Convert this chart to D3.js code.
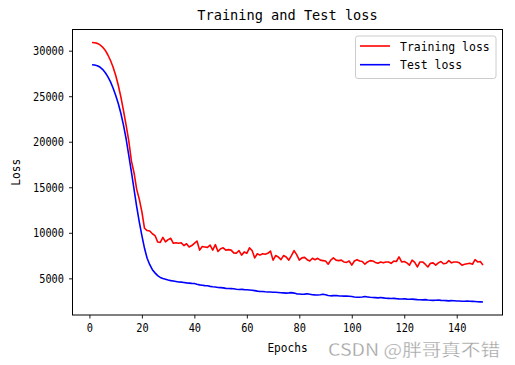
<!DOCTYPE html>
<html>
<head>
<meta charset="utf-8">
<script src="https://cdn.jsdelivr.net/npm/d3@7"></script>
<style>
html,body{margin:0;padding:0;background:#fff;}
svg{display:block;}
</style>
</head>
<body>
<div id="chart"></div>
<script>
const epochs = d3.range(1, 151);

const trainLoss = [
30900,30870,30800,30650,30400,30050,29550,28950,28200,27300,
26200,24900,23400,21800,20100,17900,16600,14800,13700,12300,
10500,10250,10200,9900,9700,9000,8950,9500,9000,9250,
9400,8850,8900,8850,8900,8600,8800,8450,8600,8850,
9100,8100,8500,8450,8400,8650,8100,8700,7950,8250,
8350,8100,8150,8100,7800,7750,8050,7550,7900,7750,
8350,8050,7250,7700,7550,7700,7650,7750,8000,7000,
7500,7350,7050,7500,7350,7000,7500,8050,7600,7000,
7250,7300,7050,6900,7200,7050,7200,7000,6950,6900,
6550,7000,7250,7000,6950,7000,6800,6750,6900,6450,
6900,7050,6900,6850,6550,6800,6950,6900,6750,6650,
6800,6700,6800,6800,6650,6900,6850,7350,6800,6850,
6700,6450,7000,6750,6250,6800,6800,6550,6250,6650,
6700,6450,6700,6850,6600,6650,6950,6700,6800,6800,
6700,6450,6550,6600,6650,6550,7050,6800,6850,6450
];

const testLoss = [
28450,28420,28350,28200,27950,27600,27150,26600,25900,25100,
24200,23100,21800,20300,18500,16700,14800,12900,11200,9700,
8300,7200,6500,5950,5600,5300,5100,4980,4900,4820,
4750,4700,4650,4600,4580,4550,4500,4480,4450,4430,
4350,4280,4250,4200,4180,4120,4080,4050,4000,3980,
3950,3900,3880,3870,3850,3800,3780,3800,3760,3740,
3720,3700,3650,3600,3560,3550,3520,3500,3500,3480,
3470,3450,3420,3400,3380,3400,3430,3380,3300,3280,
3250,3270,3300,3250,3200,3180,3170,3200,3250,3200,
3120,3080,3100,3120,3080,3060,3050,3060,3040,3000,
2950,2930,2920,2950,3000,2960,2920,2900,2880,2860,
2890,2860,2820,2800,2780,2800,2770,2750,2740,2760,
2720,2700,2720,2690,2660,2650,2640,2660,2620,2600,
2580,2600,2620,2580,2560,2550,2530,2550,2540,2520,
2510,2490,2480,2500,2490,2470,2450,2430,2420,2400
];

const xTicks = [0, 20, 40, 60, 80, 100, 120, 140];
const yTicks = [5000, 10000, 15000, 20000, 25000, 30000];
const seriesNames = ["Training loss", "Test loss"];
const seriesColors = ["#ff0000", "#0000ff"];
const titleText = "Training and Test loss";
const xLabel = "Epochs";
const yLabel = "Loss";
const watermark = "CSDN @胖哥真不错";

const W = 515, H = 365;
const m = {left: 72.5, right: 502.5, top: 29.5, bottom: 315};
const FONT = "'DejaVu Sans Mono', 'Liberation Mono', monospace";

const svg = d3.select("#chart").append("svg").attr("width", W).attr("height", H);

const xMin = 1, xMax = 150, xPad = (xMax - xMin) * 0.05;
const allVals = trainLoss.concat(testLoss);
const yMin = d3.min(allVals), yMax = d3.max(allVals), yPad = (yMax - yMin) * 0.05;

const x = d3.scaleLinear().domain([xMin - xPad, xMax + xPad]).range([m.left, m.right]);
const y = d3.scaleLinear().domain([yMin - yPad, yMax + yPad]).range([m.bottom, m.top]);

function fitText(sel, perChar) {
  sel.each(function() {
    const t = d3.select(this);
    const n = t.text().length;
    t.attr("textLength", n * perChar).attr("lengthAdjust", "spacingAndGlyphs");
  });
}

const line = d3.line().x((d, i) => x(epochs[i])).y(d => y(d));
svg.append("clipPath").attr("id", "clip").append("rect")
  .attr("x", m.left).attr("y", m.top).attr("width", m.right - m.left).attr("height", m.bottom - m.top);
const plot = svg.append("g").attr("clip-path", "url(#clip)");
[trainLoss, testLoss].forEach((s, k) => {
  plot.append("path").datum(s).attr("d", line)
    .attr("fill", "none").attr("stroke", seriesColors[k]).attr("stroke-width", 1.6)
    .attr("stroke-linejoin", "round").attr("stroke-linecap", "butt");
});

const xAxis = svg.append("g").attr("transform", `translate(0,${m.bottom})`)
  .call(d3.axisBottom(x).tickValues(xTicks).tickSize(3.5).tickPadding(5).tickFormat(d3.format("d")));
const yAxis = svg.append("g").attr("transform", `translate(${m.left},0)`)
  .call(d3.axisLeft(y).tickValues(yTicks).tickSize(3.5).tickPadding(5).tickFormat(d3.format("d")));
[xAxis, yAxis].forEach(a => {
  a.select(".domain").remove();
  a.selectAll(".tick line").attr("stroke", "#000").attr("stroke-width", 0.9);
  a.selectAll(".tick text").attr("fill", "#000").style("font-family", FONT).style("font-size", "12.5px");
});
xAxis.selectAll(".tick text").call(fitText, 6.2);
yAxis.selectAll(".tick text").call(fitText, 6.2);

svg.append("rect").attr("x", m.left).attr("y", m.top)
  .attr("width", m.right - m.left).attr("height", m.bottom - m.top)
  .attr("fill", "none").attr("stroke", "#000").attr("stroke-width", 1);

svg.append("text").attr("x", (m.left + m.right) / 2).attr("y", 20)
  .attr("text-anchor", "middle").style("font-family", FONT).style("font-size", "14px")
  .attr("fill", "#000").text(titleText).call(fitText, 8.2);

svg.append("text").attr("x", (m.left + m.right) / 2).attr("y", 352)
  .attr("text-anchor", "middle").style("font-family", FONT).style("font-size", "12.5px")
  .attr("fill", "#000").text(xLabel).call(fitText, 6.7);
svg.append("text").attr("transform", `translate(20,${(m.top + m.bottom) / 2}) rotate(-90)`)
  .attr("text-anchor", "middle").style("font-family", FONT).style("font-size", "12.5px")
  .attr("fill", "#000").text(yLabel).call(fitText, 6.7);

const lg = svg.append("g");
lg.append("rect").attr("x", 355.5).attr("y", 36).attr("width", 140.5).attr("height", 42.5)
  .attr("rx", 2.5).attr("fill", "#fff").attr("fill-opacity", 0.8)
  .attr("stroke", "#cccccc").attr("stroke-width", 1);
seriesNames.forEach((name, i) => {
  const cy = 46 + i * 18.7;
  lg.append("line").attr("x1", 360).attr("x2", 390).attr("y1", cy).attr("y2", cy)
    .attr("stroke", seriesColors[i]).attr("stroke-width", 1.6);
  lg.append("text").attr("x", 400).attr("y", cy + 4.5)
    .style("font-family", FONT).style("font-size", "12.5px").attr("fill", "#000")
    .text(name).call(fitText, 6.9);
});

svg.append("text").attr("x", 328).attr("y", 356)
  .style("font-family", "'Noto Sans CJK SC', sans-serif").style("font-size", "17px")
  .attr("fill", "#a0a0a0").attr("stroke", "#fff").attr("stroke-width", 0.3)
  .attr("textLength", 172).attr("lengthAdjust", "spacingAndGlyphs")
  .text(watermark);
</script>
</body>
</html>
